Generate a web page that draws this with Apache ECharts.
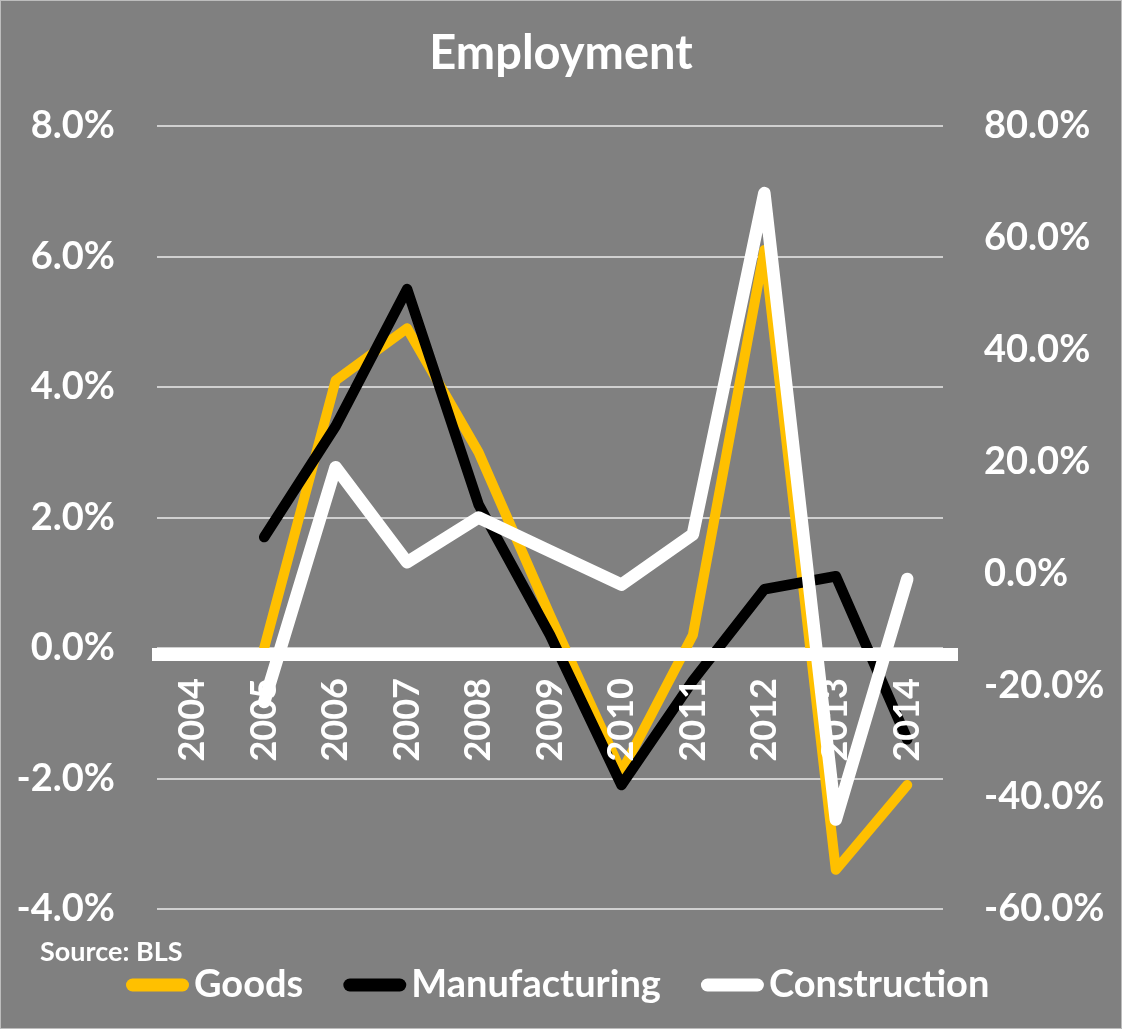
<!DOCTYPE html>
<html><head><meta charset="utf-8">
<script src="https://cdn.jsdelivr.net/npm/echarts@6/dist/echarts.min.js"></script>
<style>
html,body{margin:0;padding:0;background:#808080;}
#wrap{position:relative;width:1122px;height:1029px;}
#c{width:1122px;height:1029px;}
#frame{position:absolute;left:0;top:0;width:1122px;height:1029px;box-sizing:border-box;border:1px solid #bdbdbd;pointer-events:none;}
</style></head><body>
<div id="wrap"><div id="c"></div><div id="frame"></div></div>
<script>
const categories = ['2004','2005','2006','2007','2008','2009','2010','2011','2012','2013','2014'];
const goods = [null, 0.0, 4.1, 4.9, 3.0, 0.5, -1.9, 0.2, 6.1, -3.4, -2.1];
const manufacturing = [null, 1.7, 3.4, 5.5, 2.2, 0.2, -2.1, -0.5, 0.9, 1.1, -1.4];
const construction = [null, -23, 19, 2, 10, 4, -2, 7, 68, -44, -1];
const seriesNames = ['Goods', 'Manufacturing', 'Construction'];

const FONT = 'Lato';
const GRID = {left: 157, right: 179, top: 126, bottom: 120};
const pill = 'path://M6.5,0 H56.5 A6.5,6.5 0 0 1 56.5,13 H6.5 A6.5,6.5 0 0 1 6.5,0 Z';

const chart = echarts.init(document.getElementById('c'), null, {renderer: 'canvas'});
const pct = v => v.toFixed(1) + '%';

chart.setOption({
  backgroundColor: '#808080',
  animation: false,
  title: [
    {text: 'Employment', left: 'center', top: 25,
     textStyle: {color: '#ffffff', fontFamily: FONT, fontWeight: 'bold', fontSize: 47}},
    {text: 'Source: BLS', left: 35, top: 934,
     textStyle: {color: '#ffffff', fontFamily: FONT, fontWeight: 'bold', fontSize: 27}}
  ],
  legend: {
    left: 121, top: 961, itemGap: 40, itemWidth: 63, itemHeight: 13,
    data: seriesNames.map(n => ({name: n, icon: pill})),
    textStyle: {color: '#ffffff', fontFamily: FONT, fontWeight: 'bold', fontSize: 38}
  },
  grid: Object.assign({containLabel: false, outerBoundsMode: 'none'}, GRID),
  xAxis: {
    type: 'category', data: categories, boundaryGap: true, z: 10, position: 'bottom', offset: 0,
    axisLine: {show: false, onZero: false},
    axisTick: {show: false},
    axisLabel: {rotate: 90, margin: 30, color: '#ffffff', fontFamily: FONT, fontWeight: 'bold', fontSize: 36, interval: 0},
    splitLine: {show: false}
  },
  yAxis: [
    {type: 'value', min: -4, max: 8, interval: 2, position: 'left',
     axisLine: {show: false}, axisTick: {show: false},
     axisLabel: {formatter: pct, margin: 42, color: '#ffffff', fontFamily: FONT, fontWeight: 'bold', fontSize: 38},
     splitLine: {show: true, lineStyle: {color: '#d0d0d0', width: 2}}},
    {type: 'value', min: -60, max: 80, interval: 20, position: 'right', alignTicks: false,
     axisLine: {show: false}, axisTick: {show: false},
     axisLabel: {formatter: pct, margin: 41, color: '#ffffff', fontFamily: FONT, fontWeight: 'bold', fontSize: 38},
     splitLine: {show: false}}
  ],
  series: [
    {name: seriesNames[0], type: 'line', data: goods, yAxisIndex: 0, symbol: 'none', color: '#FFC000',
     lineStyle: {color: '#FFC000', width: 10, cap: 'round', join: 'round'}},
    {name: seriesNames[1], type: 'line', data: manufacturing, yAxisIndex: 0, symbol: 'none', color: '#000000',
     lineStyle: {color: '#000000', width: 10.5, cap: 'round', join: 'round'}},
    {name: seriesNames[2], type: 'line', data: construction, yAxisIndex: 1, symbol: 'none', color: '#ffffff',
     lineStyle: {color: '#ffffff', width: 12.5, cap: 'round', join: 'round'}}
  ]
});

// place the category axis (labels) at the 0% level of the left axis, plus the thick band
const y0 = chart.convertToPixel({yAxisIndex: 0}, 0);
const yBottom = chart.convertToPixel({yAxisIndex: 0}, -4);
const W = chart.getWidth();
chart.setOption({
  xAxis: {offset: y0 - yBottom},
  graphic: [{
    type: 'line', z: 100,
    shape: {x1: GRID.left - 5, y1: y0 + 6.5, x2: W - GRID.right + 15, y2: y0 + 6.5},
    style: {stroke: '#ffffff', lineWidth: 13}
  }]
});
</script>
</body></html>
